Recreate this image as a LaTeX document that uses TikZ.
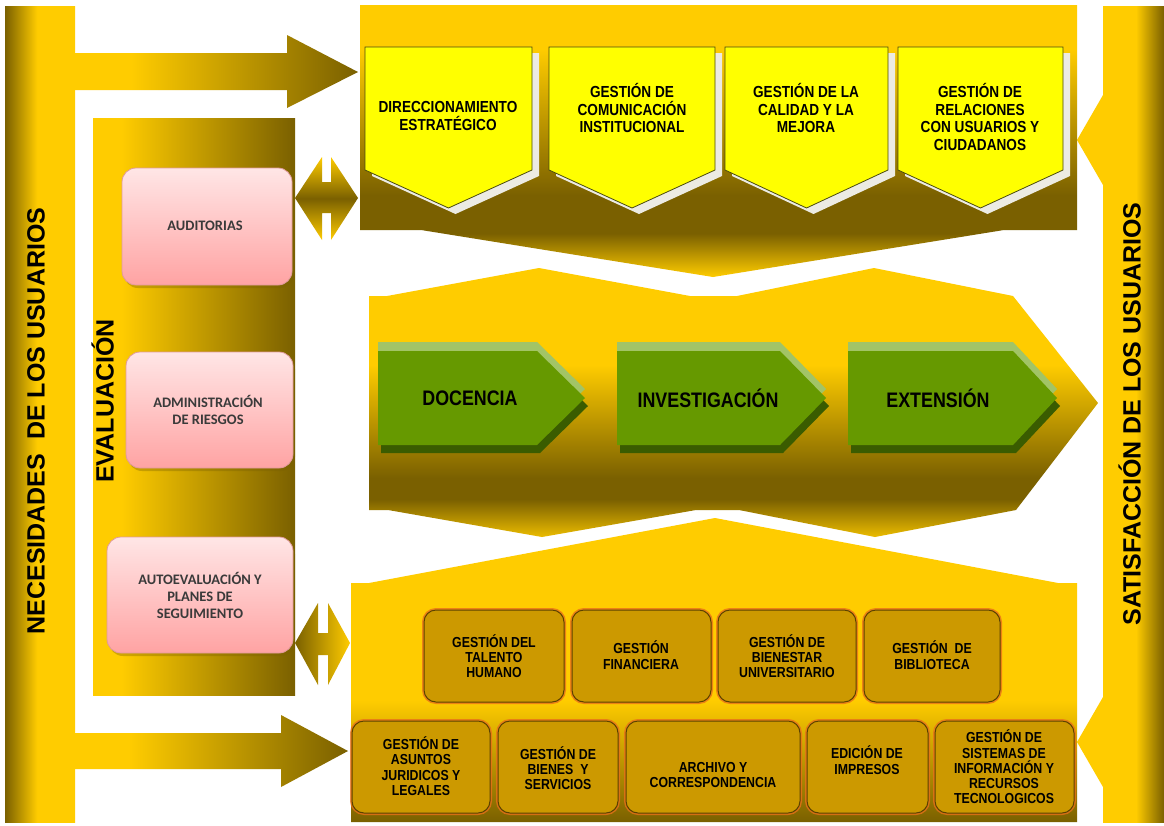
\documentclass[tikz,border=0pt]{standalone}
\usepackage{fontspec}
\setmainfont{Liberation Sans}
\newfontfamily\narrowfont[FakeStretch=0.85]{Liberation Sans}
\newfontfamily\calfont{Carlito}
\definecolor{gold}{HTML}{FFCC00}
\definecolor{olive}{HTML}{7A6000}
\definecolor{pyellow}{HTML}{FFFF00}
\definecolor{pedge}{HTML}{4A4A10}
\definecolor{pshadow}{HTML}{ECEBE3}
\definecolor{gmain}{HTML}{669900}
\definecolor{glight}{HTML}{A2C466}
\definecolor{gdark}{HTML}{3A5C00}
\definecolor{pinktop}{HTML}{FFE6E6}
\definecolor{pinkbot}{HTML}{FFA3A3}
\definecolor{pinkedge}{HTML}{E09A9A}
\definecolor{boxgold}{HTML}{CC9900}
\definecolor{glow}{HTML}{E8701A}
\definecolor{boxedge}{HTML}{5C4200}
\definecolor{pinktext}{HTML}{3A3A3A}
\pgfdeclareverticalshading{topband}{100bp}{color(0bp)=(gold); color(25bp)=(gold); color(33bp)=(olive); color(40bp)=(olive); color(67bp)=(gold); color(100bp)=(gold)}
\pgfdeclareverticalshading{midband}{100bp}{color(0bp)=(gold!85!olive); color(25bp)=(gold!85!olive); color(32bp)=(olive); color(36bp)=(olive); color(57bp)=(gold); color(100bp)=(gold)}
\pgfdeclareverticalshading{botband}{100bp}{color(0bp)=(olive); color(25bp)=(olive); color(45bp)=(gold); color(100bp)=(gold)}
\pgfdeclarehorizontalshading{leftcol}{100bp}{color(0bp)=(olive); color(25bp)=(olive); color(48bp)=(gold); color(100bp)=(gold)}
\pgfdeclarehorizontalshading{rightcol}{100bp}{color(0bp)=(gold); color(52bp)=(gold); color(75bp)=(olive); color(100bp)=(olive)}
\pgfdeclarehorizontalshading{arrowshade}{100bp}{color(0bp)=(gold); color(36bp)=(gold); color(75bp)=(olive); color(100bp)=(olive)}
\pgfdeclarehorizontalshading{evalshade}{100bp}{color(0bp)=(gold); color(32bp)=(gold); color(75bp)=(olive); color(100bp)=(olive)}
\pgfdeclareverticalshading{dblarrow}{100bp}{color(0bp)=(gold); color(25bp)=(gold); color(50bp)=(olive); color(75bp)=(gold); color(100bp)=(gold)}
\tikzset{
  sidelbl/.style={font=\bfseries\fontsize{25}{28}\selectfont, text=black, text height=0.716em, text depth=0pt, inner sep=0pt, rotate=90},
  pent/.style={fill=pyellow, draw=pedge, line width=0.8pt},
  penttext/.style={font=\narrowfont\bfseries\fontsize{16}{17.5}\selectfont, align=center, text=black, inner sep=0pt},
  pinkbox/.style={rounded corners=14pt, top color=pinktop, bottom color=pinkbot, draw=pinkedge, line width=0.8pt},
  pinktxt/.style={font=\calfont\bfseries\fontsize{14.5}{17}\selectfont, align=center, text=pinktext, inner sep=0pt},
  rowbox/.style={rounded corners=12pt, fill=boxgold, draw=boxedge, line width=1pt, preaction={draw=glow, line width=4pt, opacity=0.8}},
  rowtxt/.style={font=\narrowfont\bfseries\fontsize{14.5}{15.3}\selectfont, align=center, text=black, inner sep=0pt},
  greentxt/.style={font=\narrowfont\bfseries\fontsize{21}{23}\selectfont, text=black, inner sep=0pt}
}
\begin{document}
\begin{tikzpicture}[x=1pt,y=-1pt]
\useasboundingbox (0,0) rectangle (1164,825);
\fill[white] (0,0) rectangle (1164,825);
% side columns
\shade[shading=leftcol] (5,6) rectangle (75,822);
\shade[shading=rightcol] (1103,6) rectangle (1164,822);
\fill[gold] (1103,95) -- (1077,140) -- (1103,185) -- cycle;
\fill[gold] (1103,697) -- (1077,742) -- (1103,787) -- cycle;
% evaluation column
\shade[shading=evalshade] (93,118) rectangle (295,695);
% bands
\shade[shading=topband] (360,5) -- (1077,5) -- (1077,230) -- (1004,230) -- (713,277) -- (421,230) -- (360,230) -- cycle;
\shade[shading=midband] (369,296) -- (387,296) -- (539,268) -- (690,296) -- (737,296) -- (874,268) -- (1013,296) -- (1098,403) -- (1016,510) -- (875,537) -- (739,510) -- (696,510) -- (542,537) -- (388,510) -- (369,510) -- cycle;
\shade[shading=botband] (351,583) -- (369,583) -- (715,518) -- (1058,583) -- (1077,583) -- (1077,822) -- (351,822) -- cycle;
% big arrows
\shade[shading=arrowshade] (67,53) -- (287,53) -- (287,35) -- (358,72) -- (287,108) -- (287,90) -- (67,90) -- cycle;
\shade[shading=arrowshade] (67,733) -- (281,733) -- (281,715) -- (348,751) -- (281,787) -- (281,769) -- (67,769) -- cycle;
% double arrows
\shade[shading=dblarrow] (295,198) -- (322,157) -- (322,182) -- (331,182) -- (331,157) -- (358,198) -- (331,240) -- (331,213) -- (322,213) -- (322,240) -- cycle;
\shade[left color=olive, right color=gold] (295,643) -- (318,603) -- (318,633) -- (328,633) -- (328,603) -- (350,643) -- (328,685) -- (328,655) -- (318,655) -- (318,685) -- cycle;
% side labels
\node[sidelbl] (nec) at (41,421) {NECESIDADES\ \ DE LOS USUARIOS};
\node[sidelbl] (sat) at (1137,414) {SATISFACCIÓN DE LOS USUARIOS};
\node[sidelbl] (eva) at (110,401) {EVALUACIÓN};
% pink boxes
\fill[olive, opacity=0.35, rounded corners=14pt] (124,171) rectangle (294,288);
\draw[pinkbox] (122,168) rectangle (292,285);
\fill[olive, opacity=0.35, rounded corners=14pt] (128,355) rectangle (295,471);
\draw[pinkbox] (126,352) rectangle (293,468);
\fill[olive, opacity=0.35, rounded corners=14pt] (109,540) rectangle (295,656);
\draw[pinkbox] (107,537) rectangle (293,653);
\node[pinktxt] (aud) at (205,226) {AUDITORIAS};
\node[pinktxt] (adm) at (208,410) {ADMINISTRACIÓN\\DE RIESGOS};
\node[pinktxt] (aut) at (200,595) {AUTOEVALUACIÓN Y\\PLANES DE\\SEGUIMIENTO};
% yellow pentagons
\foreach \a/\b in {365/532, 549/715, 725/888, 898/1063}{
  \fill[pshadow] ({\a+7},53) -- ({\b+7},53) -- ({\b+7},176) -- ({(\a+\b)/2+7},214) -- ({\a+7},176) -- cycle;
  \draw[pent] (\a,47) -- (\b,47) -- (\b,170) -- ({(\a+\b)/2},208) -- (\a,170) -- cycle;
}
\node[penttext] (dir) at (448,116) {DIRECCIONAMIENTO\\ESTRATÉGICO};
\node[penttext] (com) at (632,108) {GESTIÓN DE\\COMUNICACIÓN\\INSTITUCIONAL};
\node[penttext] (cal) at (806,108) {GESTIÓN DE LA\\CALIDAD Y LA\\MEJORA};
\node[penttext] (rel) at (980,117) {GESTIÓN DE\\RELACIONES\\CON USUARIOS Y\\CIUDADANOS};
% green chevrons
\foreach \a/\b/\t in {378/537/585, 617/780/826, 848/1013/1057}{
  \fill[gdark] ({\a+3},359) -- ({\b+3},359) -- ({\t+3},406) -- ({\b+3},453) -- ({\a+3},453) -- cycle;
  \fill[glight] (\a,342) -- (\b,342) -- (\t,389) -- (\b,436) -- (\a,436) -- cycle;
  \fill[gmain] (\a,351) -- (\b,351) -- (\t,398) -- (\b,445) -- (\a,445) -- cycle;
}
\node[greentxt] (doc) at (470,398) {DOCENCIA};
\node[greentxt] (inv) at (708,398) {INVESTIGACIÓN};
\node[greentxt] (ext) at (938,398) {EXTENSIÓN};
% support boxes row 1
\draw[rowbox] (424,610) rectangle (564,702);
\draw[rowbox] (572,610) rectangle (711,702);
\draw[rowbox] (718,610) rectangle (856,702);
\draw[rowbox] (864,610) rectangle (1000,702);
\node[rowtxt] (tal) at (494,656) {GESTIÓN DEL\\TALENTO\\HUMANO};
\node[rowtxt] (fin) at (641,655) {GESTIÓN\\FINANCIERA};
\node[rowtxt] (bie) at (787,656) {GESTIÓN DE\\BIENESTAR\\UNIVERSITARIO};
\node[rowtxt] (bib) at (932,655) {GESTIÓN\ \ DE\\BIBLIOTECA};
% support boxes row 2
\draw[rowbox] (352,721) rectangle (490,813);
\draw[rowbox] (498,721) rectangle (618,813);
\draw[rowbox] (626,721) rectangle (800,813);
\draw[rowbox] (807,721) rectangle (928,813);
\draw[rowbox] (935,721) rectangle (1074,813);
\node[rowtxt] (jur) at (421,766) {GESTIÓN DE\\ASUNTOS\\JURIDICOS Y\\LEGALES};
\node[rowtxt] (ser) at (558,768) {GESTIÓN DE\\BIENES\ \ Y\\SERVICIOS};
\node[rowtxt] (arc) at (713,775) {ARCHIVO Y\\CORRESPONDENCIA};
\node[rowtxt] (edi) at (867,760) {EDICIÓN DE\\IMPRESOS};
\node[rowtxt] (sis) at (1004,767) {GESTIÓN DE\\SISTEMAS DE\\INFORMACIÓN Y\\RECURSOS\\TECNOLOGICOS};
\end{tikzpicture}
\end{document}
